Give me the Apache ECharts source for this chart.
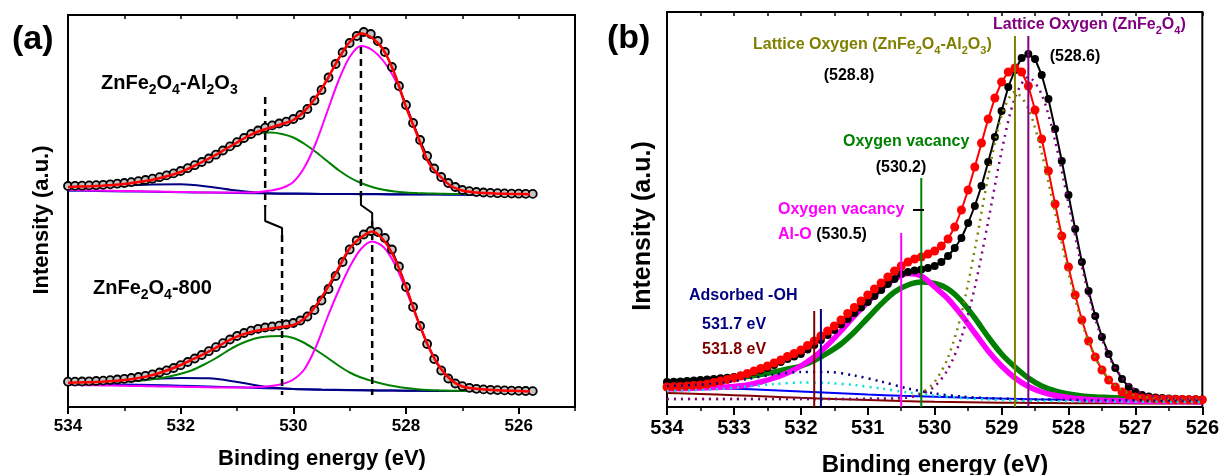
<!DOCTYPE html>
<html>
<head>
<meta charset="utf-8">
<script src="https://cdn.jsdelivr.net/npm/echarts@6/dist/echarts.min.js"></script>
<style>
html, body { margin: 0; padding: 0; background: #fff; }
#chart { width: 1222px; height: 475px; }
</style>
</head>
<body>
<div id="chart"></div>
<script>
// ---------- Panel (a): O 1s spectra of two samples, stacked, with peak fits ----------
// measured binding energies (eV)
const eA = [
  534, 533.875, 533.75, 533.625, 533.5, 533.375, 533.25, 533.125,
  533, 532.875, 532.75, 532.625, 532.5, 532.375, 532.25, 532.125,
  532, 531.875, 531.75, 531.625, 531.5, 531.375, 531.25, 531.125,
  531, 530.875, 530.75, 530.625, 530.5, 530.375, 530.25, 530.125,
  530, 529.875, 529.75, 529.625, 529.5, 529.375, 529.25, 529.125,
  529, 528.875, 528.75, 528.625, 528.5, 528.375, 528.25, 528.125,
  528, 527.875, 527.75, 527.625, 527.5, 527.375, 527.25, 527.125,
  527, 526.875, 526.75, 526.625, 526.5, 526.375, 526.25, 526.125,
  526, 525.875, 525.75
];
// ZnFe2O4-Al2O3 (upper trace, offset)
const upperData = [
  221, 221.2, 221.3, 221.6, 221.8, 222.2, 222.7, 223.3,
  224, 224.9, 225.9, 227, 228.3, 229.8, 231.6, 233.6,
  236, 238.8, 241.8, 245, 248.5, 252.3, 256.5, 260.6,
  264.8, 269, 273, 276.5, 279.3, 281.6, 283.5, 285.4,
  288, 292, 298, 306.5, 317, 329.5, 343, 354.5,
  364, 371, 375, 373, 366, 355, 340, 321,
  302, 284, 267, 251, 238.5, 230, 224, 220,
  217, 215.8, 215, 214.5, 214.1, 213.8, 213.6, 213.4,
  213.3, 213.2, 213.1
];
// ZnFe2O4-800 (lower trace)
const lowerData = [
  25.3, 25.4, 25.5, 25.7, 26, 26.4, 26.9, 27.5,
  28.2, 29, 30, 31.2, 32.7, 34.5, 36.6, 39,
  41.8, 45, 48.5, 52, 55.8, 59.8, 63.8, 67.5,
  71, 74, 76.4, 78.2, 79.5, 80.5, 81.4, 82.5,
  84, 86.5, 90.5, 97, 106.5, 118, 131, 145,
  157.5, 166.5, 172.5, 176, 175, 169, 157.5, 140.5,
  120, 100, 81, 63, 48, 36.5, 28.5, 23.5,
  20.8, 19.2, 18.2, 17.6, 17.2, 16.9, 16.6, 16.4,
  16.2, 16, 15.9
];
// energy grid of the fitted components
const fitA = [
  534.0, 533.8, 533.6, 533.4, 533.2, 533.0, 532.8, 532.6, 532.4, 532.2,
  532.0, 531.8, 531.6, 531.4, 531.2, 531.0, 530.8, 530.6, 530.4, 530.2,
  530.0, 529.8, 529.6, 529.4, 529.2, 529.0, 528.8, 528.6, 528.4, 528.2,
  528.0, 527.8, 527.6, 527.4, 527.2, 527.0, 526.8, 526.6, 526.4, 526.2,
  526.0, 525.8
];
const upperEnvelope = [
  220, 220.4, 220.8, 221.3, 222, 223, 224.5, 226.2, 228.5, 231.5,
  235, 240, 245.5, 251.5, 258, 264.5, 271, 276, 279.5, 283,
  287, 296, 309.5, 327.5, 348, 365, 373.5, 369, 357, 333,
  300, 272, 244.5, 231, 221, 216.5, 214.8, 214, 213.5, 213.2,
  213, 212.8
];
const upperLattice = [
  217, 216.8, 216.6, 216.4, 216.2, 216, 215.8, 215.6, 215.4, 215.2,
  215, 214.8, 214.6, 214.5, 214.4, 214.4, 214.5, 215, 216.5, 219,
  225, 240, 264, 295, 326, 350, 361, 357, 346, 328,
  302, 273, 246, 229, 219.5, 215.5, 214, 213.5, 213.2, 213,
  213, 213
];
const upperVacancy = [
  218.7, 219.2, 219.8, 220.5, 221.3, 222, 223.3, 225, 227, 229.8,
  233.5, 238, 243.5, 249.5, 255.5, 261.5, 268.5, 274, 274.5, 273,
  269.5, 263, 255, 246, 237, 229.5, 224, 220, 217.3, 215.6,
  214.6, 214, 213.6, 213.3, 213.1, 213, 212.9, 212.8, 212.7, 212.6,
  212.5, 212.5
];
const lowerEnvelope = [
  24.3, 24.5, 24.8, 25.3, 26, 27, 28.6, 30.6, 33.5, 37.5,
  42, 47.3, 52.7, 58.5, 65, 70.3, 74.3, 76.8, 78.5, 80,
  82, 88.6, 101.3, 118.7, 138.7, 158.7, 169.5, 175.5, 167, 148.5,
  120.3, 88.3, 60.3, 39.7, 27, 20.5, 18.5, 17.4, 16.8, 16.3,
  16, 15.5
];
const lowerLattice = [
  22, 21.9, 21.8, 21.6, 21.4, 21.2, 21, 20.8, 20.6, 20.4,
  20.2, 20, 19.8, 19.6, 19.5, 19.5, 19.6, 20, 21, 23,
  27.5, 38, 60, 89, 116, 140, 158, 165.5, 160, 143,
  117, 88, 61, 40, 27.5, 21, 18, 17, 16.5, 16.2,
  16, 15.8
];
const lowerVacancy = [
  23.7, 23.9, 24.2, 24.5, 24.9, 25.3, 26, 27, 28.5, 30.5,
  33.3, 36.8, 42, 48, 55, 61.5, 66.3, 69.5, 70.8, 71,
  69, 64, 57, 49.5, 41.5, 34.5, 29.5, 26, 23, 20.7,
  19, 17.8, 17, 16.6, 16.3, 16.1, 16, 15.9, 15.8, 15.7,
  15.6, 15.6
];
// coarse grid for the hydroxyl component and the background
const bgA = [534, 533.5, 533, 532.5, 532, 531.5, 531, 530.5, 530, 529.5, 529, 528.5, 528, 527.5, 527, 526.5, 526, 525.7];
const upperOH   = [217.7, 219.8, 221.5, 222.5, 222.7, 220.3, 216.5, 213.8, 213.3, 213.1, 213, 212.9, 212.8, 212.7, 212.6, 212.5, 212.4, 212.3];
const upperBase = [216.3, 216, 215.6, 215.2, 214.8, 214.4, 214, 213.7, 213.4, 213.1, 212.9, 212.7, 212.5, 212.4, 212.3, 212.2, 212.1, 212];
const lowerOH   = [25.3, 26.2, 27, 28, 29, 28.7, 25, 20.3, 18, 17.2, 16.8, 16.5, 16.3, 16.1, 16, 15.8, 15.6, 15.5];
const lowerBase = [23.7, 23.2, 22.6, 22, 21.3, 20.5, 19.7, 18.8, 18, 17.4, 17, 16.6, 16.3, 16.1, 15.9, 15.7, 15.5, 15.4];
// peak positions marked by dashed guides: [vacancy, lattice]
const peaksUpper = [530.5, 528.8];
const peaksLower = [530.2, 528.6];
const ticksA = [534, 532, 530, 528, 526];

// ---------- Panel (b): overlay of both spectra with deconvoluted components ----------
const eB = [
  534.0, 533.9, 533.8, 533.7, 533.6, 533.5, 533.4, 533.3, 533.2, 533.1,
  533.0, 532.9, 532.8, 532.7, 532.6, 532.5, 532.4, 532.3, 532.2, 532.1,
  532.0, 531.9, 531.8, 531.7, 531.6, 531.5, 531.4, 531.3, 531.2, 531.1,
  531.0, 530.9, 530.8, 530.7, 530.6, 530.5, 530.4, 530.3, 530.2, 530.1,
  530.0, 529.9, 529.8, 529.7, 529.6, 529.5, 529.4, 529.3, 529.2, 529.1,
  529.0, 528.9, 528.8, 528.7, 528.6, 528.5, 528.4, 528.3, 528.2, 528.1,
  528.0, 527.9, 527.8, 527.7, 527.6, 527.5, 527.4, 527.3, 527.2, 527.1,
  527.0, 526.9, 526.8, 526.7, 526.6, 526.5, 526.4, 526.3, 526.2, 526.1,
  526.0
];
const znFe2O4 = [
  25, 25.2, 25.5, 26, 26.5, 27, 27.5, 28, 28.7, 29.3,
  30, 31.5, 33, 35, 37, 39, 42, 45, 48, 50.5,
  53, 57.5, 62, 67, 72, 77, 82.5, 88, 94, 99.5,
  105, 111, 117, 123, 128, 133, 135, 136.5, 137.5, 139,
  141, 145, 151, 159, 169, 184, 201, 221, 245, 270,
  296, 320, 337, 349, 353, 348, 332, 308, 278, 246,
  212, 178, 145, 116, 91, 70, 53, 39, 28, 20,
  15, 12, 10.5, 9.5, 9, 8.5, 8.2, 8, 7.8, 7.7,
  7.6
];
const znFe2O4Al2O3 = [
  20, 20.2, 20.5, 21, 21.5, 22, 23, 24.5, 26, 27.5,
  29, 31, 33.5, 36, 38.5, 41, 44, 47, 50.5, 53.5,
  57, 61.5, 66, 71, 76, 81, 87, 93.5, 99.5, 106,
  112, 118, 124, 130, 136, 141, 145, 148, 150, 153,
  156, 161, 168, 180, 197, 217, 240, 264, 288, 309,
  325, 335, 339, 335, 321, 297, 268, 236, 203, 171,
  140, 112, 87, 66, 50, 37, 27, 20, 15, 12,
  10, 9, 8.5, 8, 7.8, 7.6, 7.5, 7.4, 7.3, 7.2,
  7.1
];
const fitB = [
  534.0, 533.8, 533.6, 533.4, 533.2, 533.0, 532.8, 532.6, 532.4, 532.2,
  532.0, 531.8, 531.6, 531.4, 531.2, 531.0, 530.8, 530.6, 530.4, 530.2,
  530.0, 529.8, 529.6, 529.4, 529.2, 529.0, 528.8, 528.6, 528.4, 528.2,
  528.0, 527.8, 527.6, 527.4, 527.2, 527.0, 526.8, 526.6, 526.4, 526.2,
  526.0
];
const vacancyZnFe = [
  25, 25.5, 26, 27, 28, 29, 30.5, 32.5, 35, 38,
  41, 46.5, 54, 63, 75, 89, 103, 115, 122, 125,
  123.5, 118, 106, 89, 70, 53, 40, 29, 21, 16,
  13, 11, 10, 9.5, 9, 8.7, 8.5, 8.3, 8.2, 8.1,
  8
];
const vacancyAlO = [
  18, 18.3, 18.7, 19.2, 19.8, 20.5, 22, 25, 29, 34,
  41, 50, 62, 76, 91, 105, 118, 128, 133.5, 131,
  120, 108, 92, 74, 56, 41, 29, 20.5, 15, 11.5,
  9.5, 8, 7.2, 6.6, 6.2, 6, 5.8, 5.6, 5.5, 5.4,
  5.3
];
const latticeZnFe = [
  8, 8, 8, 8, 8, 8, 8, 8, 8, 8,
  8, 8, 8, 8, 8, 8.1, 8.3, 8.5, 9.5, 12.7,
  20.6, 37.8, 69.6, 119.7, 185.7, 255.3, 309.4, 330, 312.6, 266,
  203.5, 140.3, 88.3, 51.5, 29.2, 17.2, 11.6, 9.4, 8.5, 8.2,
  8
];
const latticeAl = [
  8, 8, 8, 8, 8, 8, 8, 8, 8, 8,
  8, 8, 8, 8, 8.1, 8.2, 8.4, 8.5, 9.8, 14.1,
  25.2, 49.5, 93.3, 157.5, 230.9, 291.4, 315, 298.4, 253.9, 194.3,
  134.2, 84.4, 49.4, 28.2, 16.8, 11.4, 9.3, 8.5, 8.2, 8,
  8
];
const ohGrid = [534.0, 533.6, 533.2, 532.8, 532.4, 532.0, 531.6, 531.2, 530.8, 530.4, 530.0, 529.6, 529.2, 528.8, 528.4, 528.0, 527.6, 527.2, 526.8, 526.4, 526.0];
const hydroxylZnFe = [21, 22, 24, 28, 32.5, 35, 35, 31.5, 25.5, 18.5, 13.5, 10.5, 8.8, 8, 7.5, 7.2, 7, 6.8, 6.6, 6.5, 6.4];
const hydroxylAl   = [16, 16.8, 18, 20.5, 23, 24.5, 24, 22, 18.5, 14.5, 11.5, 9, 7.5, 6.5, 6, 5.7, 5.5, 5.3, 5.2, 5.1, 5];
const bgB = [534, 533.5, 533, 532.5, 532, 531.5, 531, 530.5, 530, 529.5, 529, 528.5, 528, 527.5, 527, 526.5, 526];
const backgroundZnFe = [19.5, 19, 18.2, 17, 15.5, 14, 12.5, 11.2, 10.2, 9.2, 8.4, 7.8, 7.4, 7.1, 6.9, 6.7, 6.6];
const backgroundAl   = [14, 13, 11.8, 10.5, 9.2, 8, 7, 6, 5.2, 4.7, 4.3, 4, 3.8, 3.7, 3.6, 3.5, 3.5];
// assigned peak energies: -OH (Al), -OH (ZnFe), Al-O vacancy, vacancy, lattice (Al), lattice (ZnFe)
const peakLinesB = [531.8, 531.7, 530.5, 530.2, 528.8, 528.6];

// ---------- styling ----------
const FONT = "'Liberation Sans', Arial, Helvetica, sans-serif";
const C = {
  red: '#ff0000', magenta: '#ff00ff', green: '#008000', navy: '#000080',
  blue: '#0000ff', brown: '#800000', olive: '#808000', purple: '#800080', cyan: '#00e0e0'
};
const zip = (xs, ys) => xs.map((x, i) => [x, ys[i]]);

function lineA(data, color, width, z, extra) {
  return Object.assign({
    type: 'line', xAxisIndex: 0, yAxisIndex: 0, data: data, symbol: 'none', showSymbol: false,
    smooth: 0.3, silent: true, z: z, lineStyle: { color: color, width: width }
  }, extra || {});
}
function lineB(data, color, width, z, extra) {
  return Object.assign({
    type: 'line', xAxisIndex: 2, yAxisIndex: 1, data: data, symbol: 'none', showSymbol: false,
    smooth: 0.3, silent: true, z: z, lineStyle: { color: color, width: width }
  }, extra || {});
}
function dataA(xs, ys) {
  return {
    type: 'line', xAxisIndex: 0, yAxisIndex: 0, data: zip(xs, ys), symbol: 'circle', symbolSize: 8,
    showSymbol: true, silent: true, z: 4,
    lineStyle: { color: '#000', width: 1.5 },
    itemStyle: { color: '#c4c4c4', borderColor: '#000', borderWidth: 1.8 }
  };
}

// dashed guides at the peak positions, with the step between the two traces
function guides(top, bottom, step) {
  const s = [];
  const dashed = { color: '#000', width: 2.5, type: [7, 5] };
  for (let i = 0; i < 2; i++) {
    const eu = peaksUpper[i], el = peaksLower[i];
    s.push(lineA([[eu, top[i]], [eu, step[i][0]]], '#000', 2.5, 3, { smooth: false, lineStyle: dashed }));
    s.push(lineA([[eu, step[i][0]], [eu, step[i][1]], [el, step[i][2]], [el, step[i][3]]], '#000', 2, 3, { smooth: false }));
    s.push(lineA([[el, step[i][3]], [el, bottom]], '#000', 2.5, 3, { smooth: false, lineStyle: dashed }));
  }
  return s;
}

const dotted = color => ({ lineStyle: { color: color, width: 2.5, type: [2, 5] } });
const series = [].concat(
  guides([310, 372], 12, [[200, 186, 179, 172], [210, 202, 194, 186]]),
  [
    lineA(zip(bgA, upperBase), '#1010c0', 2, 2),
    lineA(zip(bgA, upperOH), C.navy, 2, 2),
    lineA(zip(fitA, upperVacancy), C.green, 2, 2),
    lineA(zip(fitA, upperLattice), C.magenta, 2, 2),
    dataA(eA, upperData),
    lineA(zip(fitA, upperEnvelope), C.red, 2.5, 5),
    lineA(zip(bgA, lowerBase), '#1010c0', 2, 2),
    lineA(zip(bgA, lowerOH), C.navy, 2, 2),
    lineA(zip(fitA, lowerVacancy), C.green, 2, 2),
    lineA(zip(fitA, lowerLattice), C.magenta, 2, 2),
    dataA(eA, lowerData),
    lineA(zip(fitA, lowerEnvelope), C.red, 2.5, 5),

    lineB(zip(bgB, backgroundAl), C.brown, 2, 2),
    lineB(zip(bgB, backgroundZnFe), C.blue, 2, 2),
    lineB(zip(fitB, vacancyZnFe), C.green, 5.5, 3),
    lineB(zip(fitB, vacancyAlO), C.magenta, 5.5, 3),
    {
      type: 'line', xAxisIndex: 2, yAxisIndex: 1, data: zip(eB, znFe2O4), symbol: 'circle', symbolSize: 8,
      showSymbol: true, silent: true, z: 4, lineStyle: { color: '#000', width: 2 }, itemStyle: { color: '#000' }
    },
    {
      type: 'line', xAxisIndex: 2, yAxisIndex: 1, data: zip(eB, znFe2O4Al2O3), symbol: 'circle', symbolSize: 9,
      showSymbol: true, silent: true, z: 5, lineStyle: { color: C.red, width: 2 }, itemStyle: { color: C.red }
    },
    lineB(zip(ohGrid, hydroxylAl), C.cyan, 2.5, 6, dotted(C.cyan)),
    lineB(zip(ohGrid, hydroxylZnFe), C.navy, 2.5, 6, dotted(C.navy)),
    lineB(zip(fitB, latticeAl), C.olive, 2.5, 6, dotted(C.olive)),
    lineB(zip(fitB, latticeZnFe), C.purple, 2.5, 6, dotted(C.purple))
  ]
);

// vertical markers at the assigned energies
const markerColors = [C.brown, C.navy, C.magenta, C.green, C.olive, C.purple];
const markerTops = [96, 98, 174, 229, 371, 371];
peakLinesB.forEach((e, i) => {
  series.push(lineB([[e, 0], [e, markerTops[i]]], markerColors[i], 2, 7, { smooth: false }));
});

// ---------- text ----------
const measureCtx = document.createElement('canvas').getContext('2d');
function textWidth(t, size) {
  measureCtx.font = 'bold ' + size + 'px ' + FONT;
  return measureCtx.measureText(t).width;
}
function textEl(t, x, y, size, color, align, extra) {
  return Object.assign({
    type: 'text', x: x, y: y, z: 100, silent: true,
    style: {
      text: t, fill: color, fontSize: size, fontWeight: 'bold', fontFamily: FONT,
      align: align || 'left', textAlign: align || 'left', verticalAlign: 'middle', textVerticalAlign: 'middle'
    }
  }, extra || {});
}
// a run of text pieces, some of them subscripts: [text, color, isSub]
function run(parts, x, y, size) {
  const out = [];
  let cx = x;
  parts.forEach(p => {
    const sub = !!p[2];
    const s = sub ? Math.round(size * 0.68) : size;
    out.push(textEl(p[0], cx, sub ? y + size * 0.36 : y, s, p[1]));
    cx += textWidth(p[0], s);
  });
  return out;
}
const K = '#000';
const graphics = [].concat(
  [textEl('(a)', 12, 40, 34, K), textEl('(b)', 607, 39, 34, K)],
  run([['ZnFe', K], ['2', K, 1], ['O', K], ['4', K, 1], ['-Al', K], ['2', K, 1], ['O', K], ['3', K, 1]], 101, 83, 20),
  run([['ZnFe', K], ['2', K, 1], ['O', K], ['4', K, 1], ['-800', K]], 93, 288, 20),
  [
    textEl('Intensity (a.u.)', 42, 220, 22, K, 'center', { rotation: Math.PI / 2 }),
    textEl('Intensity (a.u.)', 643, 226, 25, K, 'center', { rotation: Math.PI / 2 }),
    textEl('Binding energy (eV)', 322, 459, 22, K, 'center'),
    textEl('Binding energy (eV)', 935, 465, 24, K, 'center')
  ],
  run([['Lattice Oxygen (ZnFe', C.olive], ['2', C.olive, 1], ['O', C.olive], ['4', C.olive, 1], ['-Al', C.olive],
       ['2', C.olive, 1], ['O', C.olive], ['3', C.olive, 1], [')', C.olive]], 753, 45, 16),
  [textEl('(528.8)', 849, 76, 16, K, 'center')],
  run([['Lattice Oxygen (ZnFe', C.purple], ['2', C.purple, 1], ['O', C.purple], ['4', C.purple, 1], [')', C.purple]], 993, 25, 16),
  [textEl('(528.6)', 1075, 57, 16, K, 'center')],
  [textEl('Oxygen vacancy', 843, 142, 16, C.green)],
  [textEl('(530.2)', 901, 168, 16, K, 'center')],
  [textEl('Oxygen vacancy', 778, 210, 16, C.magenta)],
  [{ type: 'line', z: 100, silent: true, shape: { x1: 913, y1: 210, x2: 924, y2: 210 }, style: { stroke: K, lineWidth: 2 } }],
  run([['Al-O', C.magenta], [' (530.5)', K]], 778, 235, 16),
  [
    textEl('Adsorbed -OH', 689, 296, 16, C.navy),
    textEl('531.7 eV', 702, 325, 16, C.navy),
    textEl('531.8 eV', 702, 350, 16, C.brown)
  ]
);

// ---------- axes ----------
const tickLine = { color: '#000', width: 2 };
const noLine = { show: false };
const option = {
  animation: false,
  backgroundColor: '#fff',
  grid: [
    { left: 68, top: 15, width: 507, height: 392, show: true, borderColor: '#000', borderWidth: 2, backgroundColor: 'transparent' },
    { left: 667, top: 12, width: 536, height: 395, show: true, borderColor: '#000', borderWidth: 2, backgroundColor: 'transparent' },
    { left: 68, top: 15, width: 507, height: 392, show: false }
  ],
  xAxis: [
    {
      gridIndex: 0, type: 'value', min: 525, max: 534, inverse: true, position: 'bottom',
      axisLine: noLine, splitLine: noLine,
      axisTick: { customValues: ticksA, length: 7, lineStyle: tickLine },
      axisLabel: { customValues: ticksA, margin: 11, color: '#000', fontSize: 17, fontWeight: 'bold', fontFamily: FONT }
    },
    {
      gridIndex: 0, type: 'value', min: 525, max: 534, inverse: true, position: 'top', interval: 1,
      axisLine: noLine, splitLine: noLine, axisLabel: { show: false },
      axisTick: { inside: true, length: 4, lineStyle: { color: '#000', width: 1.5 } }
    },
    {
      gridIndex: 1, type: 'value', min: 526, max: 534, inverse: true, position: 'bottom', interval: 1,
      axisLine: noLine, splitLine: noLine,
      axisTick: { length: 8, lineStyle: tickLine },
      minorTick: { show: true, splitNumber: 2, length: 4, lineStyle: { color: '#000', width: 1.5 } },
      axisLabel: { margin: 11, color: '#000', fontSize: 20, fontWeight: 'bold', fontFamily: FONT, formatter: v => String(Math.round(v)) }
    },
    {
      gridIndex: 1, type: 'value', min: 526, max: 534, inverse: true, position: 'top', interval: 0.5,
      axisLine: noLine, splitLine: noLine, axisLabel: { show: false },
      axisTick: { inside: true, length: 4, lineStyle: { color: '#000', width: 1.5 } }
    },
    {
      gridIndex: 2, type: 'value', min: 525, max: 534, inverse: true, position: 'bottom', interval: 1,
      axisLine: noLine, splitLine: noLine, axisLabel: { show: false },
      axisTick: { length: 4, lineStyle: { color: '#000', width: 1.5 } }
    }
  ],
  yAxis: [
    { gridIndex: 0, type: 'value', min: 0, max: 392, show: false },
    { gridIndex: 1, type: 'value', min: 0, max: 395, show: false },
    { gridIndex: 2, type: 'value', min: 0, max: 392, show: false }
  ],
  series: series,
  graphic: { elements: graphics }
};

const chart = echarts.init(document.getElementById('chart'), null, { renderer: 'canvas', width: 1222, height: 475 });
chart.setOption(option);
</script>
</body>
</html>
